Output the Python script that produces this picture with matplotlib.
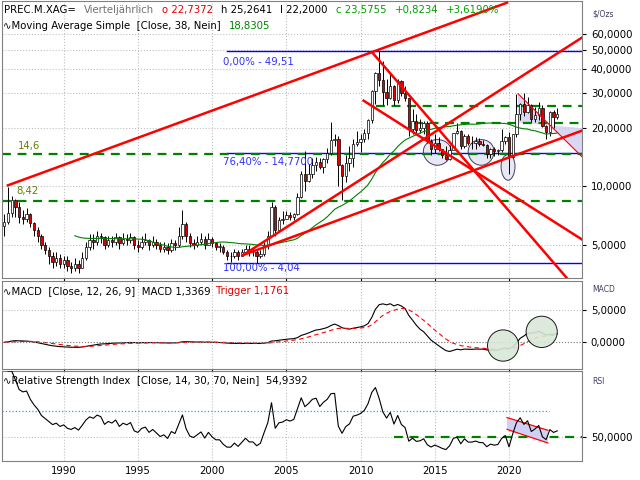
import numpy as np, pandas as pd
import matplotlib
matplotlib.use("Agg")
import matplotlib.pyplot as plt
from matplotlib.patches import Ellipse, Polygon, Rectangle

closes = [6.6,7.3,8.5,7.8, 7.0,6.8,7.2,6.5, 6.0,5.6,5.0,4.7, 4.4,4.1,4.3,4.0, 4.2,3.9,3.8,4.0,
 3.8,4.3,4.9,5.3, 5.2,5.6,5.5,5.0, 5.3,5.2,5.5,5.1, 5.4,5.3,5.5,5.0, 4.9,5.2,5.3,5.0,
 5.2,5.0,4.8,4.9, 4.7,5.1,5.0,5.6, 6.4,5.6,5.1,5.0, 5.2,5.4,5.0,5.4, 5.1,4.9,4.9,4.6,
 4.4,4.4,4.6,4.4, 4.6,4.8,4.6,4.6, 4.4,4.5,5.0,5.6, 7.8,6.0,6.7,6.8, 7.1,7.0,7.2,8.8,
 11.5,10.7,11.6,12.9, 13.3,12.5,13.8,14.8, 17.3,17.5,12.8,11.3, 13.1,13.9,16.5,16.9,
 17.5,18.7,21.8,30.6, 37.9,34.9,30.5,28.2, 32.5,27.6,34.5,30.0, 28.3,19.7,21.7,19.5,
 19.8,21.0,17.1,15.6, 16.6,15.6,14.5,13.8, 15.4,18.7,19.2,16.0, 18.2,16.6,16.6,17.0,
 16.4,16.3,14.7,15.5, 15.1,15.3,17.0,17.9, 14.1,18.5,23.6,26.4, 24.1,26.1,22.0,23.3,
 25.1,20.3,19.0,24.0, 22.7372,23.5755]
highs = [7.2,9.9,8.9,8.6, 8.3,7.6,7.7,7.3, 6.6,6.2,5.7,5.2, 4.9,4.6,4.6,4.5, 4.4,4.4,4.1,4.3,
 4.2,4.6,5.2,5.7, 5.7,5.9,5.8,5.6, 5.6,5.6,5.8,5.6, 5.8,5.7,5.8,5.6, 5.3,5.6,5.8,5.4,
 5.6,5.4,5.2,5.2, 5.1,5.4,5.3,6.2, 7.6,6.6,5.8,5.4, 5.6,5.8,5.6,5.8, 5.5,5.2,5.1,5.0,
 4.7,4.6,4.8,4.7, 4.8,5.0,5.0,4.9, 4.8,4.7,5.2,5.9, 8.3,8.0,7.0,7.5, 7.5,7.4,7.3,9.2,
 12.0,15.2,13.0,14.0, 14.2,14.0,14.0,15.8, 21.3,18.5,18.0,13.0, 14.5,16.0,17.5,19.2,
 18.5,19.7,22.0,31.0, 38.5,49.51,44.0,35.5, 37.5,33.0,35.5,35.0, 32.5,28.5,25.0,23.5,
 22.0,21.5,21.5,17.5, 18.5,17.8,15.5,16.0, 16.2,18.8,21.2,19.5, 18.6,18.6,18.2,17.8,
 17.6,17.3,16.5,15.7, 15.9,15.5,19.6,18.0, 18.9,18.6,29.8,26.6, 30.1,28.7,26.4,25.4,
 26.9,26.2,20.5,24.3, 24.6,25.2641]
lows = [5.6,6.4,7.0,7.0, 6.5,6.4,6.6,6.2, 5.6,5.2,4.8,4.5, 4.0,3.8,3.9,3.8, 3.8,3.7,3.6,3.7,
 3.6,3.8,4.2,4.7, 4.8,5.0,5.1,4.8, 4.9,4.9,5.0,4.8, 5.0,5.0,5.1,4.8, 4.6,4.8,5.0,4.7,
 4.9,4.8,4.6,4.6, 4.5,4.6,4.7,4.9, 5.4,5.2,4.9,4.8, 4.9,5.0,4.8,5.0, 4.9,4.7,4.6,4.5,
 4.2,4.1,4.3,4.2, 4.4,4.5,4.4,4.4, 4.04,4.3,4.4,4.8, 5.8,5.6,5.9,6.4, 6.8,6.7,6.7,7.1,
 8.7,9.5,10.5,11.0, 12.0,12.2,11.7,13.2, 14.5,16.0,10.0,8.5, 10.5,12.0,12.5,16.0,
 15.0,16.8,17.5,21.0, 26.5,32.5,26.0,26.0, 28.0,26.0,26.7,29.0, 27.5,18.2,18.5,18.8,
 18.8,18.6,16.7,14.4, 14.9,15.2,14.0,13.6, 13.7,15.5,18.5,15.5, 15.8,16.2,15.5,15.6,
 16.0,16.0,13.9,14.0, 14.3,14.4,15.0,16.5, 11.6,14.0,17.8,21.9, 23.0,23.7,21.4,21.4,
 21.9,20.1,17.5,18.1, 19.9,22.2]
start_year = 1986.0
year_ticks = [1990, 1995, 2000, 2005, 2010, 2015, 2020]
fib_levels = [49.51, 14.77, 4.04]
fib_labels = ["0,00% - 49,51", "76,40% - 14,7700", "100,00% - 4,04"]

n = len(closes)
c = np.array(closes); h = np.array(highs); l = np.array(lows)
o = np.concatenate([[c[0]*0.95], c[:-1]])
t = start_year + np.arange(n)*0.25
s = pd.Series(c)
ma = s.rolling(38, min_periods=20).mean()
ema12 = s.ewm(span=12, adjust=False).mean(); ema26 = s.ewm(span=26, adjust=False).mean()
macd = ema12-ema26; sig = macd.ewm(span=9, adjust=False).mean()
d = s.diff(); up = d.clip(lower=0).ewm(alpha=1/14, adjust=False).mean(); dn = (-d.clip(upper=0)).ewm(alpha=1/14, adjust=False).mean()
rsi = 100 - 100/(1+up/dn)

X0 = 1990 - 62/14.9; X1 = 1990 + (582-62)/14.9
def yr(px): return 1990 + (px-62)/14.9
def pr(py): return 10**(1+(186-py)/196)

fig = plt.figure(figsize=(6.4,4.8), dpi=100)
fs = 7.3
ax = fig.add_axes([0.003, 1-278/480, 0.906, 277/480])
am = fig.add_axes([0.003, 1-369/480, 0.906, 88/480])
ar = fig.add_axes([0.003, 1-461/480, 0.906, 90/480])
for a in (ax, am, ar):
    a.set_xlim(X0, X1)
    a.yaxis.tick_right(); a.yaxis.set_label_position("right")
    a.tick_params(labelsize=fs, length=3, direction='out')
    for sp in a.spines.values(): sp.set_color('#808080')
    a.set_xticks(year_ticks)
    a.grid(True, ls=':', color='#c0c0c0', lw=0.8)
    a.set_axisbelow(True)
ax.set_yscale('log')
ax.set_ylim(pr(278), pr(0))
yt = [5,10,20,30,40,50,60]
ax.set_yticks(yt); ax.set_yticklabels([f"{v},0000" for v in yt]); ax.minorticks_off()
ax.set_xticklabels([]); am.set_xticklabels([])
ar.set_xticklabels([str(y) for y in year_ticks], fontsize=fs)
ar.tick_params(axis='x', length=0)

fig.canvas.draw()
renderer = fig.canvas.get_renderer()
def seq(x, y, parts, gap=8):
    for txt, col in parts:
        tt = fig.text(x/640, 1-y/480, txt, fontsize=fs, color=col, va='center')
        bb = tt.get_window_extent(renderer)
        x += bb.width + gap

w = 0.16
for i in range(n):
    ax.vlines(t[i], l[i], h[i], color='black', lw=0.7, zorder=3)
    lo_, hi_ = min(o[i],c[i]), max(o[i],c[i])
    fc = 'white' if c[i] >= o[i] else '#e00000'
    ax.add_patch(Rectangle((t[i]-w/2, lo_), w, max(hi_-lo_, 0.005*hi_), fc=fc, ec='black', lw=0.5, zorder=4))
ax.plot(t, ma, color='#008000', lw=0.8, zorder=5)

for lv in fib_levels:
    ax.plot([yr(226), X1], [lv, lv], color='#0000ff', lw=1, zorder=2)
ax.text(yr(222), pr(61), fib_labels[0], color='#3030ff', fontsize=fs, va='center')
ax.text(yr(222), pr(162), fib_labels[1], color='#3030ff', fontsize=fs, va='center')
ax.text(yr(222), pr(268), fib_labels[2], color='#3030ff', fontsize=fs, va='center')
gd = dict(color='#008000', lw=1.6, ls=(0,(4,3)), zorder=2)
ax.plot([X0, X1], [14.6, 14.6], **gd); ax.plot([X0, X1], [8.42, 8.42], **gd)
ax.plot([yr(375), X1], [pr(105)]*2, **gd); ax.plot([yr(414), X1], [pr(122)]*2, **gd)
ax.text(yr(16), pr(146), "14,6", color='#608000', fontsize=fs, va='center')
ax.text(yr(15), pr(191), "8,42", color='#608000', fontsize=fs, va='center')

rl = dict(color='#ff0000', lw=1.8, zorder=6, clip_on=True)
for (x1,y1,x2,y2) in [(6,185,507,1.7),(372,52,567,278),(363,100,588,243),(242,255,588,33),(242,255,588,128)]:
    ax.plot([yr(x1),yr(x2)],[pr(y1),pr(y2)], **rl)
ax.plot([yr(518),yr(588)],[pr(93),pr(162)], color='#ff0000', lw=0.8, zorder=6)
ax.add_patch(Polygon([(yr(518),pr(93)),(yr(588),pr(162)),(yr(588),pr(128)),(yr(518),pr(122))], closed=True,
                     fc='#c8c8f0', ec='none', alpha=0.7, zorder=1))
for (cx,cy,ww) in [(437,151,28),(481,151,26),(508,166,14)]:
    ax.add_patch(Ellipse((yr(cx), pr(cy)), ww/14.9, pr(cy)*0.3, fc='#e8e8f4', ec='#404060', lw=0.7, zorder=1))

seq(4, 10, [("PREC.M.XAG=", 'black'), ("Vierteljährlich", '#707070'), ("o 22,7372", '#e00000'),
            ("h 25,2641", 'black'), ("l 22,2000", 'black'), ("c 23,5755", '#00a000'),
            ("+0,8234", '#00a000'), ("+3,6190%", '#00a000')])
seq(3, 26, [("∿Moving Average Simple  [Close, 38, Nein]", 'black'), ("18,8305", '#008000')])
fig.text(0.925, 1-14/480, "$/Ozs", fontsize=5.5, color='#404060', va='center')

am.plot(t, macd, color='black', lw=0.8)
am.plot(t, sig, color='#ff0000', lw=0.8, ls=(0,(4,3)))
am.axhline(0, color='#808080', lw=0.8, ls=':')
am.set_ylim(-4.1, 9.4); am.set_yticks([0,5]); am.set_yticklabels(["0,0000","5,0000"])
for (cx,cy) in [(2019.6,-0.5),(2022.2,1.6)]:
    am.add_patch(Ellipse((cx,cy), 2.1, 4.8, fc='#d8e8d8', ec='black', lw=0.7, alpha=0.9, zorder=3))
seq(3, 291, [("∿MACD  [Close, 12, 26, 9]  MACD 1,3369", 'black'), ("Trigger 1,1761", '#e00000')], gap=5)
fig.text(0.925, 1-290/480, "MACD", fontsize=5.5, color='#404060', va='center')

ar.plot(t, rsi, color='black', lw=0.8, zorder=4)
ar.set_ylim(32, 100); ar.set_yticks([50]); ar.set_yticklabels(["50,0000"])
ar.plot([X0, yr(549)], [70,70], color='#3399ff', lw=0.9, ls=':')
ar.plot([yr(394), X1], [50,50], color='#008000', lw=1.6, ls=(0,(4,3)))
ar.add_patch(Polygon([(yr(507),64.8),(yr(548),55.2),(yr(548),45.6),(yr(507),55.9)], fc='#d0d0f4', ec='none', zorder=2))
ar.plot([yr(507),yr(548)],[64.8,55.2], color='#ff0000', lw=0.9, zorder=3)
ar.plot([yr(507),yr(548)],[55.9,45.6], color='#ff0000', lw=0.9, zorder=3)
seq(3, 381, [("∿Relative Strength Index  [Close, 14, 30, 70, Nein]  54,9392", 'black')])
fig.text(0.925, 1-381/480, "RSI", fontsize=5.5, color='#404060', va='center')

fig.savefig("out.png", dpi=100)
